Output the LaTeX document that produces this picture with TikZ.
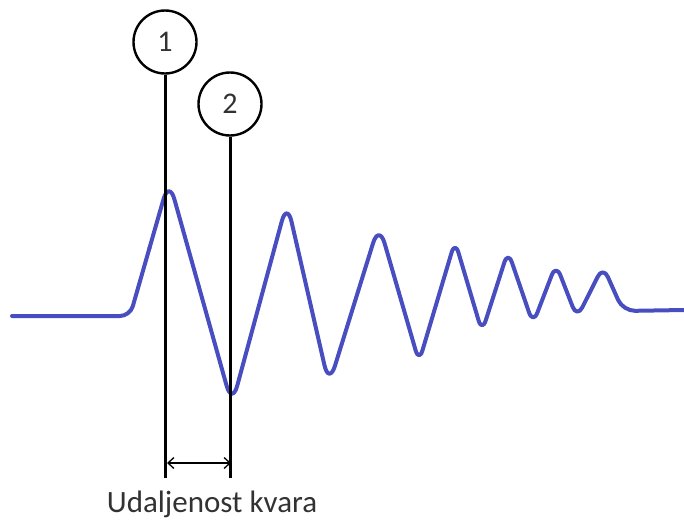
\documentclass[tikz,border=0pt]{standalone}
\usepackage{fontspec}
\setmainfont{Carlito}
\usetikzlibrary{arrows.meta}
\definecolor{wave}{RGB}{72,78,192}
\definecolor{txt}{RGB}{50,50,50}
\tikzset{
  marker/.style={draw=black, line width=2.4pt, circle, minimum size=63pt, inner sep=0pt, fill=white,
     font=\fontsize{30}{36}\selectfont, text=txt},
  vline/.style={draw=black, line width=3pt},
  wavepath/.style={draw=wave, line width=4pt, line join=round, line cap=round},
  dim/.style={draw=black, line width=1.3pt, {Straight Barb[length=6pt,width=11pt]}-{Straight Barb[length=6pt,width=11pt]}},
}
\begin{document}
\begin{tikzpicture}[x=1pt,y=-1pt]
\useasboundingbox (0,0) rectangle (684,519);
% wave
\draw[wavepath, rounded corners=10pt] (12,316) -- (130,316) -- (149.5,248);
\draw[wavepath, rounded corners=20pt] (149.5,248) -- (169,180) -- (232,405) -- (287,202) -- (329,385) -- (379,224) -- (399,293);
\draw[wavepath, rounded corners=12pt] (399,293) -- (419,362) -- (455,241) -- (482,332) -- (508,251) -- (533,324) -- (556,264) -- (577,318) -- (603,266) -- (623,311) -- (684,310);
% markers
\node[marker] (c1) at (165,42) {1};
\node[marker] (c2) at (230,104) {2};
\coordinate (b1) at (166,478);
\coordinate (b2) at (232,478);
\draw[vline] (c1.south) -- (c1.south |- b1);
\draw[vline] (c2.south) -- (c2.south |- b2);
\coordinate (a1) at (167,463);
\coordinate (a2) at (231,463);
\draw[dim] (a1) -- (a2);
\node[font=\fontsize{31}{36}\selectfont, text=txt] (lbl) at (212,504) {Udaljenost kvara};
\end{tikzpicture}
\end{document}
